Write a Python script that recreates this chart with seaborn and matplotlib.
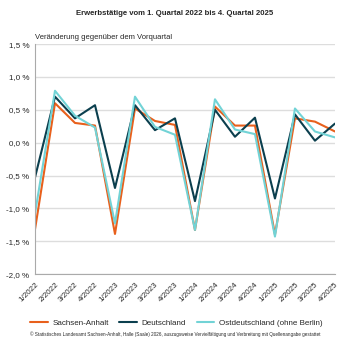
import numpy as np
import pandas as pd
import matplotlib.pyplot as plt
import seaborn as sns

quarters = ["1/2022", "2/2022", "3/2022", "4/2022",
            "1/2023", "2/2023", "3/2023", "4/2023",
            "1/2024", "2/2024", "3/2024", "4/2024",
            "1/2025", "2/2025", "3/2025", "4/2025"]
sachsen_anhalt = [-1.32, 0.60, 0.30, 0.26, -1.39, 0.52, 0.33, 0.27,
                  -1.33, 0.55, 0.26, 0.26, -1.40, 0.37, 0.32, 0.17]
deutschland = [-0.53, 0.70, 0.37, 0.57, -0.69, 0.57, 0.19, 0.37,
               -0.89, 0.50, 0.09, 0.38, -0.85, 0.43, 0.03, 0.29]
ostdeutschland = [-1.08, 0.79, 0.41, 0.23, -1.23, 0.70, 0.24, 0.12,
                  -1.33, 0.66, 0.20, 0.13, -1.43, 0.52, 0.17, 0.08]
series_names = ["Sachsen-Anhalt", "Deutschland", "Ostdeutschland (ohne Berlin)"]
colors = ["#e8601c", "#0b3f4e", "#72d3d6"]

df = pd.DataFrame({
    "q": list(range(len(quarters))) * 3,
    "wert": sachsen_anhalt + deutschland + ostdeutschland,
    "region": [n for n in series_names for _ in quarters],
})

sns.set_style("white")
plt.rcParams['font.family'] = ['Liberation Sans', 'DejaVu Sans']

fig = plt.figure(figsize=(3.5, 3.5), dpi=100)
ax = fig.add_axes([0.1, 0.217, 0.857, 0.657])

sns.lineplot(data=df, x="q", y="wert", hue="region", hue_order=series_names,
             palette=colors, linewidth=1.5, ax=ax, legend=False)

ax.set_xlim(0, len(quarters) - 1)
ax.set_ylim(-2.0, 1.5)
ax.set_xticks(range(len(quarters)))
ax.set_xticklabels(quarters, rotation=45, ha="right", rotation_mode="anchor", fontsize=5.8)
yt = np.arange(-2.0, 1.51, 0.5)
ax.set_yticks(yt)
ax.set_yticklabels([f"{v:.1f} %".replace(".", ",") for v in yt], fontsize=5.8)
ax.set_yticks(np.arange(-2.0, 1.51, 0.25), minor=True)
ax.yaxis.grid(True, color="#dddddd", linewidth=1.0)
ax.set_axisbelow(True)
ax.tick_params(axis="x", length=3, color="#aaaaaa", width=0.7, pad=2)
ax.tick_params(axis="y", which="both", length=2, color="#aaaaaa", width=0.7, pad=2)
for s in ["top", "right"]:
    ax.spines[s].set_visible(False)
for s in ["left", "bottom"]:
    ax.spines[s].set_color("#aaaaaa")
    ax.spines[s].set_linewidth(0.8)
ax.set_xlabel("")
ax.set_ylabel("")

ax.text(0.0, 1.012, "Veränderung gegenüber dem Vorquartal", transform=ax.transAxes,
        fontsize=5.5, va="bottom", ha="left")
fig.text(0.5, 0.962, "Erwerbstätige vom 1. Quartal 2022 bis 4. Quartal 2025",
         fontsize=5.6, fontweight="bold", ha="center", va="center")

handles = [plt.Line2D([], [], color=c, linewidth=1.5) for c in colors]
fig.legend(handles, series_names, loc="center", bbox_to_anchor=(0.504, 0.078),
           ncol=3, frameon=False, fontsize=5.8, handlelength=2.2, columnspacing=1.3,
           handletextpad=0.6)
fig.text(0.5, 0.046, "© Statistisches Landesamt Sachsen-Anhalt, Halle (Saale) 2026, auszugsweise "
         "Vervielfältigung und Verbreitung mit Quellenangabe gestattet",
         fontsize=3.3, ha="center", va="center")

fig.savefig("out.png", dpi=100)
